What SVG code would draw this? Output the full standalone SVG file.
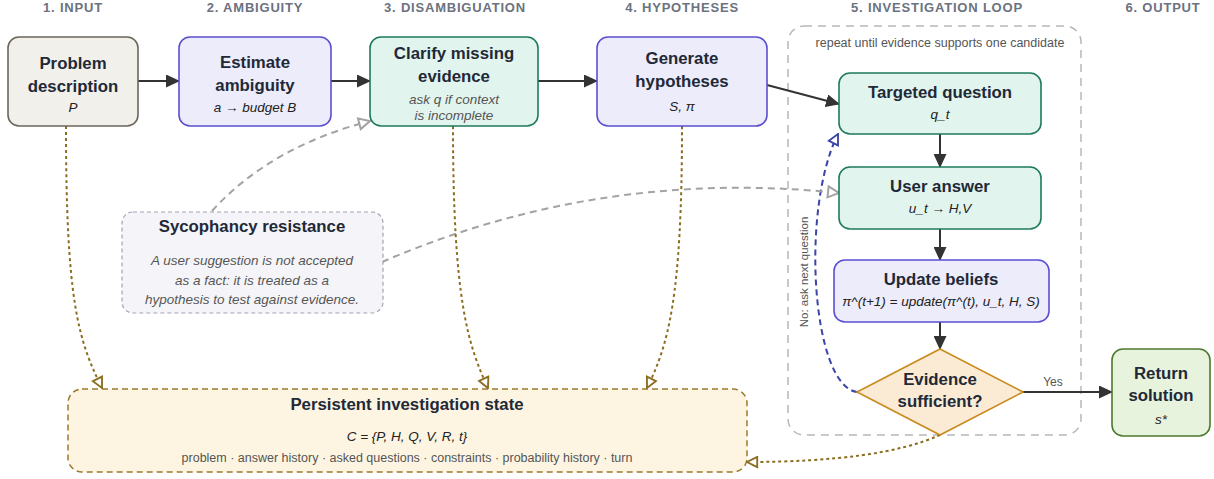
<svg xmlns="http://www.w3.org/2000/svg" width="1214" height="479" viewBox="0 0 1214 479">
<style>
  text { font-family: "Liberation Sans", Arial, sans-serif; }
  .hdr { font-size: 13px; font-weight: bold; fill: #6b7280; text-anchor: middle; letter-spacing: 0.8px; }
  .ttl { font-size: 16.8px; font-weight: bold; fill: #1f2937; text-anchor: middle; }
  .sub { font-size: 13.5px; font-style: italic; fill: #222; text-anchor: middle; }
  .subg { font-size: 13.5px; font-style: italic; fill: #555; text-anchor: middle; }
  .note { font-size: 12.5px; fill: #555; text-anchor: middle; }
  .solid { fill: none; stroke: #333; stroke-width: 2; }
  .gray { fill: none; stroke: #a3a3a3; stroke-width: 2; stroke-dasharray: 7,5; }
  .brown { fill: none; stroke: #8b6d1f; stroke-width: 2; stroke-dasharray: 3,3; }
  .blue { fill: none; stroke: #3b44a8; stroke-width: 2; stroke-dasharray: 6,4; }
</style>
<defs>
  <marker id="ah" viewBox="0 0 14 13" refX="13" refY="6.5" markerWidth="14" markerHeight="13" markerUnits="userSpaceOnUse" orient="auto">
    <path d="M0,0 L14,6.5 L0,13 z" fill="#333"/>
  </marker>
  <marker id="og" viewBox="0 0 14 14" refX="12.5" refY="7" markerWidth="14" markerHeight="14" markerUnits="userSpaceOnUse" orient="auto">
    <path d="M1.5,1.5 L12.5,7 L1.5,12.5 z" fill="#fff" stroke="#a3a3a3" stroke-width="2"/>
  </marker>
  <marker id="ob" viewBox="0 0 14 14" refX="12.5" refY="7" markerWidth="13" markerHeight="13" markerUnits="userSpaceOnUse" orient="auto">
    <path d="M1.5,1.5 L12.5,7 L1.5,12.5 z" fill="#fff" stroke="#8b6d1f" stroke-width="2"/>
  </marker>
  <marker id="ol" viewBox="0 0 14 14" refX="12.5" refY="7" markerWidth="13" markerHeight="13" markerUnits="userSpaceOnUse" orient="auto">
    <path d="M1.5,1.5 L12.5,7 L1.5,12.5 z" fill="#fff" stroke="#3b44a8" stroke-width="2"/>
  </marker>
</defs>

<rect width="1214" height="479" fill="#ffffff"/>

<g id="headers">
  <text class="hdr" x="73" y="12">1. INPUT</text>
  <text class="hdr" x="255" y="12">2. AMBIGUITY</text>
  <text class="hdr" x="455" y="12">3. DISAMBIGUATION</text>
  <text class="hdr" x="682" y="12">4. HYPOTHESES</text>
  <text class="hdr" x="937" y="12">5. INVESTIGATION LOOP</text>
  <text class="hdr" x="1163" y="12">6. OUTPUT</text>
</g>

<g id="loop">
  <rect x="788" y="26" width="293" height="409" rx="16" fill="none" stroke="#b8b8b8" stroke-width="1.5" stroke-dasharray="8,6"/>
  <text class="note" x="940" y="47">repeat until evidence supports one candidate</text>
</g>

<g id="state">
  <rect x="68" y="389" width="679" height="83" rx="14" fill="#fdf5e2" stroke="#9a7a2c" stroke-width="1.5" stroke-dasharray="6,4"/>
  <text class="ttl" x="407" y="410" font-size="17.3px">Persistent investigation state</text>
  <text x="407" y="441" font-size="13.5px" font-style="italic" fill="#222" text-anchor="middle">C = {P, H, Q, V, R, t}</text>
  <text x="407" y="462" font-size="12.5px" fill="#555" text-anchor="middle">problem · answer history · asked questions · constraints · probability history · turn</text>
</g>

<g id="connectors">
  <line class="solid" x1="138" y1="81" x2="179" y2="81" marker-end="url(#ah)"/>
  <line class="solid" x1="331" y1="81" x2="370" y2="81" marker-end="url(#ah)"/>
  <line class="solid" x1="538" y1="81" x2="597" y2="81" marker-end="url(#ah)"/>
  <line class="solid" x1="767" y1="85" x2="839" y2="104" marker-end="url(#ah)"/>
  <line class="solid" x1="940" y1="134" x2="940" y2="167" marker-end="url(#ah)"/>
  <line class="solid" x1="940" y1="229" x2="940" y2="260" marker-end="url(#ah)"/>
  <line class="solid" x1="940" y1="322" x2="940" y2="349" marker-end="url(#ah)"/>
  <line class="solid" x1="1023" y1="392" x2="1112" y2="392" marker-end="url(#ah)"/>
  <text x="1053" y="386" font-size="12px" fill="#555" text-anchor="middle">Yes</text>

  <path class="blue" d="M857,392 C812,386 800,210 838,134" marker-end="url(#ol)"/>
  <text x="808" y="272" font-size="11.5px" fill="#555" text-anchor="middle" transform="rotate(-90 808 272)">No: ask next question</text>

  <path class="gray" d="M212,211 Q270,147 370,121" marker-end="url(#og)"/>
  <path class="gray" d="M382,262 Q600,168 839,193" marker-end="url(#og)"/>

  <path class="brown" d="M66,126 C66,300 78,340 102,388" marker-end="url(#ob)"/>
  <path class="brown" d="M453,126 C453,300 468,345 488,388" marker-end="url(#ob)"/>
  <path class="brown" d="M682,126 C682,300 668,345 647,388" marker-end="url(#ob)"/>
  <path class="brown" d="M940,435 Q880,462 747,462" marker-end="url(#ob)"/>
</g>

<g id="problem">
  <rect x="8" y="37" width="130" height="89" rx="11" fill="#f1f0eb" stroke="#6b6659" stroke-width="1.6"/>
  <text class="ttl" x="73" y="69">Problem</text>
  <text class="ttl" x="73" y="92">description</text>
  <text class="sub" x="73" y="112">P</text>
</g>

<g id="estimate">
  <rect x="179" y="37" width="152" height="89" rx="11" fill="#ececfb" stroke="#5a4fcf" stroke-width="1.6"/>
  <text class="ttl" x="255" y="68">Estimate</text>
  <text class="ttl" x="255" y="91">ambiguity</text>
  <text class="sub" x="255" y="112">a → budget B</text>
</g>

<g id="clarify">
  <rect x="370" y="37" width="168" height="89" rx="11" fill="#e2f4ee" stroke="#1e7a5c" stroke-width="1.6"/>
  <text class="ttl" x="454" y="59">Clarify missing</text>
  <text class="ttl" x="454" y="82">evidence</text>
  <text class="subg" x="454" y="104">ask q if context</text>
  <text class="subg" x="454" y="120">is incomplete</text>
</g>

<g id="generate">
  <rect x="597" y="37" width="170" height="89" rx="11" fill="#ececfb" stroke="#5a4fcf" stroke-width="1.6"/>
  <text class="ttl" x="682" y="64">Generate</text>
  <text class="ttl" x="682" y="87">hypotheses</text>
  <text class="sub" x="682" y="111">S, π</text>
</g>

<g id="targeted">
  <rect x="839" y="73" width="202" height="61" rx="11" fill="#e2f4ee" stroke="#1e7a5c" stroke-width="1.6"/>
  <text class="ttl" x="940" y="98">Targeted question</text>
  <text class="sub" x="940" y="119">q_t</text>
</g>

<g id="answer">
  <rect x="839" y="167" width="202" height="62" rx="11" fill="#e2f4ee" stroke="#1e7a5c" stroke-width="1.6"/>
  <text class="ttl" x="940" y="192">User answer</text>
  <text class="sub" x="940" y="213">u_t → H,V</text>
</g>

<g id="update">
  <rect x="834" y="260" width="215" height="62" rx="11" fill="#ececfb" stroke="#5a4fcf" stroke-width="1.6"/>
  <text class="ttl" x="941" y="285">Update beliefs</text>
  <text class="sub" x="941" y="306" font-size="12.8px">π^(t+1) = update(π^(t), u_t, H, S)</text>
</g>

<g id="decision">
  <polygon points="940,349 1023,392 940,435 857,392" fill="#fbebd5" stroke="#c98a1e" stroke-width="1.6"/>
  <text class="ttl" x="940" y="385">Evidence</text>
  <text class="ttl" x="940" y="407">sufficient?</text>
</g>

<g id="return">
  <rect x="1112" y="349" width="98" height="87" rx="11" fill="#e7f3dd" stroke="#4c7a2c" stroke-width="1.6"/>
  <text class="ttl" x="1161" y="379">Return</text>
  <text class="ttl" x="1161" y="401">solution</text>
  <text class="sub" x="1161" y="424">s*</text>
</g>

<g id="sycophancy">
  <rect x="122" y="212" width="261" height="101" rx="11" fill="#f5f5f9" stroke="#a3a3b3" stroke-width="1.2" stroke-dasharray="4,3"/>
  <text class="ttl" x="252" y="232">Sycophancy resistance</text>
  <text class="subg" x="252" y="265">A user suggestion is not accepted</text>
  <text class="subg" x="252" y="285">as a fact: it is treated as a</text>
  <text class="subg" x="252" y="304">hypothesis to test against evidence.</text>
</g>
</svg>
